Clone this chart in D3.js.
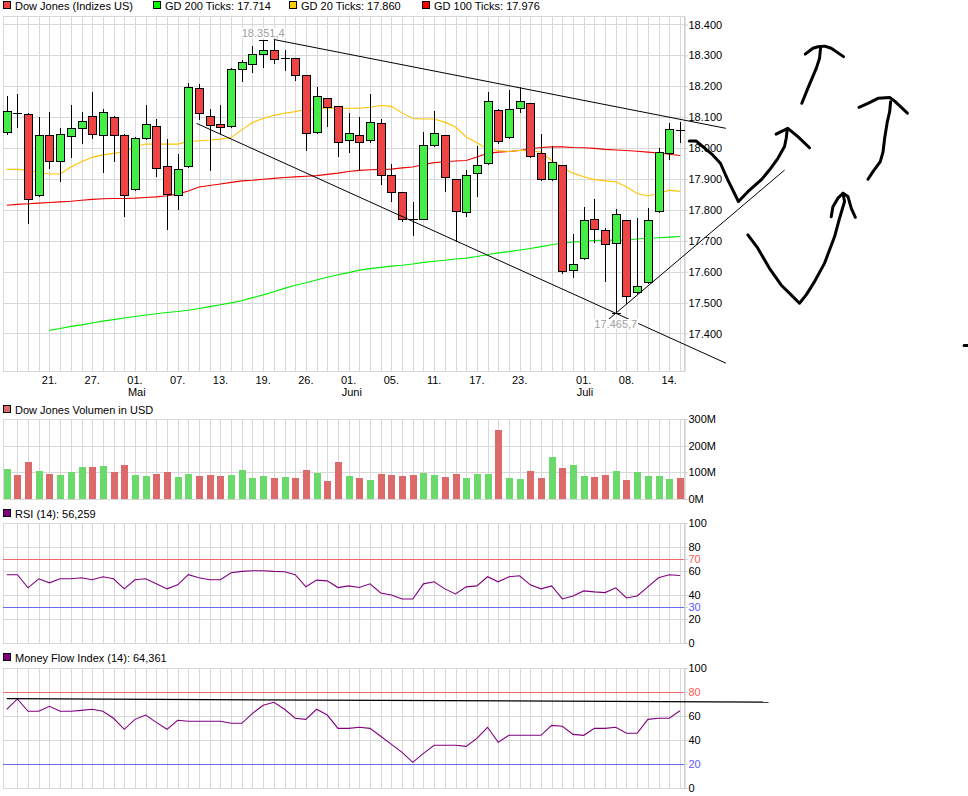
<!DOCTYPE html>
<html><head><meta charset="utf-8">
<script src="https://cdn.jsdelivr.net/npm/d3@7"></script>
<style>
body{margin:0;background:#fff;}
svg text{font-family:"Liberation Sans",Arial,sans-serif;font-size:11px;}
</style></head><body>
<svg id="c" width="968" height="796"></svg>
<script>
// ---------- DATA ----------
const dates = ["2015-04-15","2015-04-16","2015-04-17","2015-04-20","2015-04-21","2015-04-22","2015-04-23","2015-04-24","2015-04-27","2015-04-28","2015-04-29","2015-04-30",
"2015-05-01","2015-05-04","2015-05-05","2015-05-06","2015-05-07","2015-05-08","2015-05-11","2015-05-12","2015-05-13","2015-05-14","2015-05-15","2015-05-18","2015-05-19","2015-05-20","2015-05-21","2015-05-22","2015-05-26","2015-05-27","2015-05-28","2015-05-29",
"2015-06-01","2015-06-02","2015-06-03","2015-06-04","2015-06-05","2015-06-08","2015-06-09","2015-06-10","2015-06-11","2015-06-12","2015-06-15","2015-06-16","2015-06-17","2015-06-18","2015-06-19","2015-06-22","2015-06-23","2015-06-24","2015-06-25","2015-06-26","2015-06-29","2015-06-30",
"2015-07-01","2015-07-02","2015-07-06","2015-07-07","2015-07-08","2015-07-09","2015-07-10","2015-07-13","2015-07-14","2015-07-15"];

const open  = [18051,18114,18109,17848,18041,17957,18038,18064,18103,18041,18100,18041,17867,18032,18071,17941,17847,17941,18194,18103,18077,18071,18255,18272,18304,18317,18288,18291,18236,18051,18161,18135,18025,18041,18025,18080,17912,17857,17773,17772,18009,18041,17899,17794,17918,17951,18122,18035,18129,18145,17983,17899,17944,17605,17643,17770,17734,17692,17766,17533,17566,17796,17983,18062];
const high  = [18169,18175,18112,18101,18117,18066,18140,18117,18182,18127,18104,18045,18035,18140,18094,18030,17981,18211,18207,18127,18140,18258,18285,18330,18351.4,18350,18318,18293,18238,18198,18163,18137,18114,18100,18175,18094,17948,17859,17826,18051,18119,18043,17901,17929,18007,18182,18128,18188,18198,18147,18045,18006,17946,17722,17808,17834,17740,17802,17768,17773,17805,17999,18080,18083];
const low   = [18045,18069,17757,17845,17937,17895,17972,18016,18032,17924,17959,17781,17865,18030,17911,17739,17804,17939,18094,17929,18048,18069,18218,18247,18263,18276,18253,18220,17994,18049,18072,17974,17987,17929,18019,17885,17830,17765,17720,17770,18007,17862,17700,17781,17846,17949,18016,18033,18116,17972,17897,17897,17595,17582,17641,17695,17569,17465.7,17498,17531,17564,17794,17964,18019];
const close = [18120,18112,17834,18041,17957,18045,18064,18087,18045,18116,18041,17847,18032,18077,17935,17851,17931,18197,18113,18074,18067,18255,18278,18304,18317,18287,18290,18236,18048,18168,18132,18019,18048,18019,18083,17912,17857,17772,17771,18009,18048,17906,17797,17912,17944,18152,18022,18126,18152,17974,17899,17954,17601,17624,17766,17737,17689,17786,17520,17553,17766,17986,18061,18060];

const volumeM = [112,90,139,105,94,90,101,120,120,124,101,127,90,86,94,101,82,94,86,90,86,90,109,79,86,79,82,79,109,97,67,139,86,79,71,94,90,86,90,97,90,82,94,79,94,94,259,79,75,105,79,157,116,127,86,82,90,105,71,101,86,86,75,79];

const gd20  = [17931,17931,17928,17921,17916,17916,17939,17956,17970,17978,17983,17988,18005,18013,18013,18013,18013,18021,18024,18026,18029,18034,18059,18083,18096,18106,18113,18118,18125,18129,18130,18129,18129,18129,18132,18138,18135,18114,18096,18094,18094,18084,18068,18036,18017,17997,17992,17989,17993,17991,17987,17960,17937,17919,17907,17898,17894,17891,17875,17853,17845,17853,17864,17860];
const gd100 = [17815,17818,17820,17822,17824,17826,17828,17831,17834,17836,17837,17837,17838,17840,17842,17846,17851,17861,17874,17879,17884,17889,17894,17896,17899,17902,17905,17907,17909,17911,17915,17919,17924,17928,17930,17931,17932,17936,17939,17947,17953,17956,17958,17960,17971,17983,17987,17989,17992,17998,18002,18004,18004,18002,18001,17999,17996,17994,17992,17990,17987,17984,17980,17976];
const gd200 = [null,null,null,null,17410,17416,17423,17428,17434,17440,17445,17450,17455,17460,17464,17468,17471,17475,17481,17487,17493,17499,17506,17516,17525,17535,17546,17556,17564,17573,17582,17590,17597,17605,17610,17614,17618,17621,17625,17630,17634,17637,17641,17644,17649,17655,17661,17665,17670,17675,17681,17687,17693,17696,17698,17701,17702,17702,17703,17706,17708,17710,17712,17714];

const rsi = [56.9,56.9,46,53.5,50.1,53.5,53.5,54.4,52.7,55.2,53.5,45.1,52.7,53.5,49.3,45.1,48.5,56.9,54.4,52.7,52.7,58.6,59.7,60.2,60.2,59.7,59.4,56.9,46.8,52.4,51.8,46.2,47.6,46.2,49.3,41.7,40,36.7,36.7,49.3,51,45.1,40.9,46.8,47.6,55.2,51,55.2,56,48.5,45.1,47.6,36.7,39.2,43.4,42.6,42,46,37.5,39.2,46.8,54.4,56.9,56.259];
const mfi = [65.6,74.2,63.9,63.9,68.1,63.9,63.9,64.7,65.6,63.9,58.1,48.9,57.2,60.8,54.7,48.9,56.4,55.6,55.6,55.6,55.6,53.9,53.9,62.2,68.9,71.4,65.6,58.1,57.2,65.6,60.8,49.7,49.7,50.6,49.7,43.1,36.4,29.7,21.4,28.9,35.6,35.6,35.6,34.7,41.4,50.6,38.1,43.9,43.9,43.9,43.9,52.2,51.4,44.7,43.9,49.7,49.7,50.6,45.6,45.6,57.2,58.1,58.1,64.361];

const priceTicks = [17400,17500,17600,17700,17800,17900,18000,18100,18200,18300,18400];
const volTicks = [0,100e6,200e6,300e6];
const rsiTicks = [0,20,30,40,60,70,80,100];
const mfiTicks = [0,20,40,60,80,100];
const dayTickDates = ["2015-04-21","2015-04-27","2015-05-01","2015-05-07","2015-05-13","2015-05-19","2015-05-26","2015-06-01","2015-06-05","2015-06-11","2015-06-17","2015-06-23","2015-07-01","2015-07-08","2015-07-14"];
const monthTicks = [["2015-05-01","Mai"],["2015-06-01","Juni"],["2015-07-01","Juli"]];

// user-drawn trend lines, in [candle index, price]
const trendLines = [
  [[25, 18351.4],[67.3, 18064]],
  [[17.77, 18080],[67.3, 17304]],
  [[55.45, 17420],[72.8, 17929]]
];
const mfiLine = [[0, 74.4],[71.3, 71.6]];
// freehand scribbles, in [candle index, price]
const scribbles = [
  [[63.88,18023],[64.51,18023],[66.07,17978],[66.79,17951],[67.48,17897],[68.10,17854],[68.48,17827],[69.36,17859],[70.60,17897],[71.38,17929],[72.17,17967],[72.79,18005],[72.95,18032],[73.04,18059]],
  [[72.0,18045],[73.10,18064],[74.04,18037],[75.13,18001]],
  [[74.41,18145],[74.98,18194],[75.76,18258],[76.07,18291],[76.16,18323]],
  [[74.73,18304],[75.45,18323],[75.92,18328],[76.54,18330],[77.16,18323],[78.31,18296]],
  [[80.60,17899],[81.07,17924],[81.75,17956],[82.01,17988],[82.16,18032],[82.41,18085],[82.63,18118],[82.72,18150]],
  [[79.76,18132],[80.60,18145],[81.54,18161],[82.63,18164],[83.10,18152],[84.29,18113]],
  [[69.36,17719],[70.29,17676],[71.38,17611],[72.47,17557],[73.41,17525],[74.19,17498],[74.82,17525],[75.60,17568],[76.53,17627],[77.47,17713],[77.94,17773],[78.41,17827],[78.26,17854]],
  [[77.16,17778],[77.32,17810],[77.79,17838],[78.26,17854],[78.73,17843],[79.04,17805],[79.42,17776]],
  [[89.6,17361],[90.0,17361]]
];

// ---------- SETUP ----------
const de = d3.formatLocale({decimal:",", thousands:".", grouping:[3], currency:["","€"]});
const fInt = de.format(",.0f"), f1 = de.format(",.1f"), f3 = de.format(",.3f");
const N = dates.length;
const PL = 3, PR = 684;
const GRID = "#d8d8d8";
const RED = "#f04444", GREEN = "#44ee44";
const VRED = "#dc6a6a", VGREEN = "#6cd96c";

const svg = d3.select("#c");
const x = d3.scaleLinear().domain([0, N-1]).range([6.7, 679.9]);
const yP = d3.scaleLinear().domain([17278.6, 18427.5]).range([371, 16]);
const yV = d3.scaleLinear().domain([0, 300e6]).range([499, 419]);
const yR = d3.scaleLinear().domain([0, 100]).range([643, 523]);
const yM = d3.scaleLinear().domain([0, 100]).range([788, 668]);
const px = i => Math.round(x(i)) + 0.5;
const cr = v => Math.round(v) + 0.5;

function panel(top, bottom, yScale, gridVals, ticks, fmt, colorFn) {
  const g = svg.append("g");
  g.selectAll(".vg").data(d3.range(1, N)).join("line")
    .attr("x1", px).attr("x2", px).attr("y1", top).attr("y2", bottom)
    .attr("stroke", GRID);
  g.selectAll(".hg").data(gridVals).join("line")
    .attr("x1", PL).attr("x2", PR).attr("y1", d => cr(yScale(d))).attr("y2", d => cr(yScale(d)))
    .attr("stroke", GRID);
  g.append("rect").attr("x", PL + 0.5).attr("y", top + 0.5)
    .attr("width", PR - PL).attr("height", bottom - top)
    .attr("fill", "none").attr("stroke", GRID);
  const ax = svg.append("g").attr("transform", `translate(${PR + 0.5},0)`)
    .call(d3.axisRight(yScale).tickValues(ticks).tickFormat(fmt).tickSize(3).tickSizeOuter(0).tickPadding(1));
  ax.select(".domain").attr("stroke", "#c8c8c8");
  ax.selectAll(".tick line").attr("stroke", "#c8c8c8");
  ax.selectAll(".tick text").attr("fill", d => colorFn ? colorFn(d) : "#000")
    .style("font-family", '"Liberation Sans",Arial,sans-serif').style("font-size", "11px");
  return g;
}

function legendItem(xp, yBase, color, label) {
  svg.append("rect").attr("x", xp + 0.5).attr("y", yBase - 8.5).attr("width", 7).attr("height", 7)
    .attr("fill", color).attr("stroke", "#000");
  svg.append("text").attr("x", xp + 12).attr("y", yBase).text(label);
}

// ---------- LEGENDS ----------
legendItem(3, 10, RED, "Dow Jones (Indizes US)");
legendItem(153, 10, "#00ff00", "GD 200 Ticks: " + fInt(gd200[N-1]));
legendItem(289, 10, "#ffcc00", "GD 20 Ticks: " + fInt(gd20[N-1]));
legendItem(422, 10, "#ff0000", "GD 100 Ticks: " + fInt(gd100[N-1]));
legendItem(3, 414, VRED, "Dow Jones Volumen in USD");
legendItem(3, 518, "#800080", "RSI (14): " + f3(rsi[N-1]));
legendItem(3, 662, "#800080", "Money Flow Index (14): " + f3(mfi[N-1]));

// ---------- PRICE PANEL ----------
panel(16, 371, yP, priceTicks, priceTicks, fInt);

// x axis labels
svg.append("g").selectAll("text").data(dayTickDates).join("text")
  .attr("x", d => x(dates.indexOf(d))).attr("y", 384).attr("text-anchor", "middle")
  .text(d => d.slice(8) + ".");
svg.append("g").selectAll("text").data(monthTicks).join("text")
  .attr("x", d => x(dates.indexOf(d[0])) - 7).attr("y", 396)
  .text(d => d[1]);

// moving averages
const maLine = arr => d3.line().defined(d => d != null).x((d, i) => x(i)).y(d => yP(d))(arr);
[[gd200, "#00ee00"], [gd100, "#ee0000"], [gd20, "#ffc400"]].forEach(([arr, col]) => {
  svg.append("path").attr("d", maLine(arr)).attr("fill", "none").attr("stroke", col).attr("stroke-width", 1.1);
});

// candles
const candles = d3.range(N).map(i => ({i, o: open[i], h: high[i], l: low[i], c: close[i]}));
const cg = svg.append("g").selectAll("g").data(candles).join("g");
cg.append("line").attr("x1", d => px(d.i)).attr("x2", d => px(d.i))
  .attr("y1", d => Math.round(yP(d.h))).attr("y2", d => Math.round(yP(d.l)) + 1)
  .attr("stroke", "#000");
const isDoji = d => Math.abs(yP(d.o) - yP(d.c)) < 1.5;
cg.filter(d => !isDoji(d)).append("rect")
  .attr("x", d => Math.round(x(d.i)) - 4 + 0.5)
  .attr("y", d => cr(yP(Math.max(d.o, d.c))))
  .attr("width", 8)
  .attr("height", d => Math.round(yP(Math.min(d.o, d.c))) - Math.round(yP(Math.max(d.o, d.c))))
  .attr("fill", d => d.c >= d.o ? GREEN : RED).attr("stroke", "#000");
cg.filter(isDoji).append("line")
  .attr("x1", d => Math.round(x(d.i)) - 4).attr("x2", d => Math.round(x(d.i)) + 5)
  .attr("y1", d => cr(yP(d.c))).attr("y2", d => cr(yP(d.c))).attr("stroke", "#000");

// extremes
const iMax = d3.maxIndex(high), iMin = d3.minIndex(low);
[[iMax, high[iMax]], [iMin, low[iMin]]].forEach(([i, v]) => {
  svg.append("line").attr("x1", Math.round(x(i)) - 4).attr("x2", Math.round(x(i)) + 5)
    .attr("y1", cr(yP(v))).attr("y2", cr(yP(v))).attr("stroke", "#000");
});

// trend lines
svg.append("g").selectAll("path").data(trendLines).join("path")
  .attr("d", d => d3.line().x(p => x(p[0])).y(p => yP(p[1]))(d))
  .attr("fill", "none").attr("stroke", "#000").attr("stroke-width", 1);

function extremeLabel(i, v, yBase) {
  const t = svg.append("text").attr("x", x(i)).attr("y", yBase).attr("text-anchor", "middle")
    .attr("fill", "#a0a0a0").text(f1(v));
  const b = t.node().getBBox();
  svg.insert("rect", () => t.node()).attr("x", b.x - 1).attr("y", b.y + 1).attr("width", b.width + 2).attr("height", b.height - 2)
    .attr("fill", "#fff");
}
extremeLabel(iMax, high[iMax], Math.round(yP(high[iMax])) - 3);
extremeLabel(iMin, low[iMin], Math.round(yP(low[iMin])) + 15);

// ---------- VOLUME PANEL ----------
panel(419, 499, yV, [100e6, 200e6], volTicks, d => (d / 1e6) + "M");
svg.append("g").selectAll("rect").data(volumeM).join("rect")
  .attr("x", (d, i) => Math.round(x(i)) - 3).attr("width", 7)
  .attr("y", d => Math.round(yV(d * 1e6))).attr("height", d => 499 - Math.round(yV(d * 1e6)))
  .attr("fill", (d, i) => close[i] >= open[i] ? VGREEN : VRED);

// ---------- RSI PANEL ----------
const levelColor = (lv, hiV, loV) => lv === hiV ? "#ff5a5a" : lv === loV ? "#5a5aff" : "#000";
panel(523, 643, yR, [20, 40, 60, 80], rsiTicks, d => d, d => levelColor(d, 70, 30));
[[70, "#f06a6a"], [30, "#6a6af0"]].forEach(([lv, col]) => {
  svg.append("line").attr("x1", PL).attr("x2", PR).attr("y1", cr(yR(lv))).attr("y2", cr(yR(lv))).attr("stroke", col);
});
svg.append("path").attr("d", d3.line().x((d, i) => x(i)).y(d => yR(d))(rsi))
  .attr("fill", "none").attr("stroke", "#800080").attr("stroke-width", 1.1);

// ---------- MFI PANEL ----------
panel(668, 788, yM, [40, 60], mfiTicks, d => d, d => levelColor(d, 80, 20));
[[80, "#f06a6a"], [20, "#6a6af0"]].forEach(([lv, col]) => {
  svg.append("line").attr("x1", PL).attr("x2", PR).attr("y1", cr(yM(lv))).attr("y2", cr(yM(lv))).attr("stroke", col);
});
svg.append("path").attr("d", d3.line().x((d, i) => x(i)).y(d => yM(d))(mfi))
  .attr("fill", "none").attr("stroke", "#800080").attr("stroke-width", 1.1);
svg.append("path").attr("d", d3.line().x(p => x(p[0])).y(p => yM(p[1]))(mfiLine))
  .attr("fill", "none").attr("stroke", "#000").attr("stroke-width", 1.2);

// ---------- SCRIBBLES ----------
svg.append("g").selectAll("path").data(scribbles).join("path")
  .attr("d", d => d3.line().x(p => x(p[0])).y(p => yP(p[1]))(d))
  .attr("fill", "none").attr("stroke", "#000").attr("stroke-width", 3)
  .attr("stroke-linecap", "round").attr("stroke-linejoin", "round");
</script>
</body></html>
